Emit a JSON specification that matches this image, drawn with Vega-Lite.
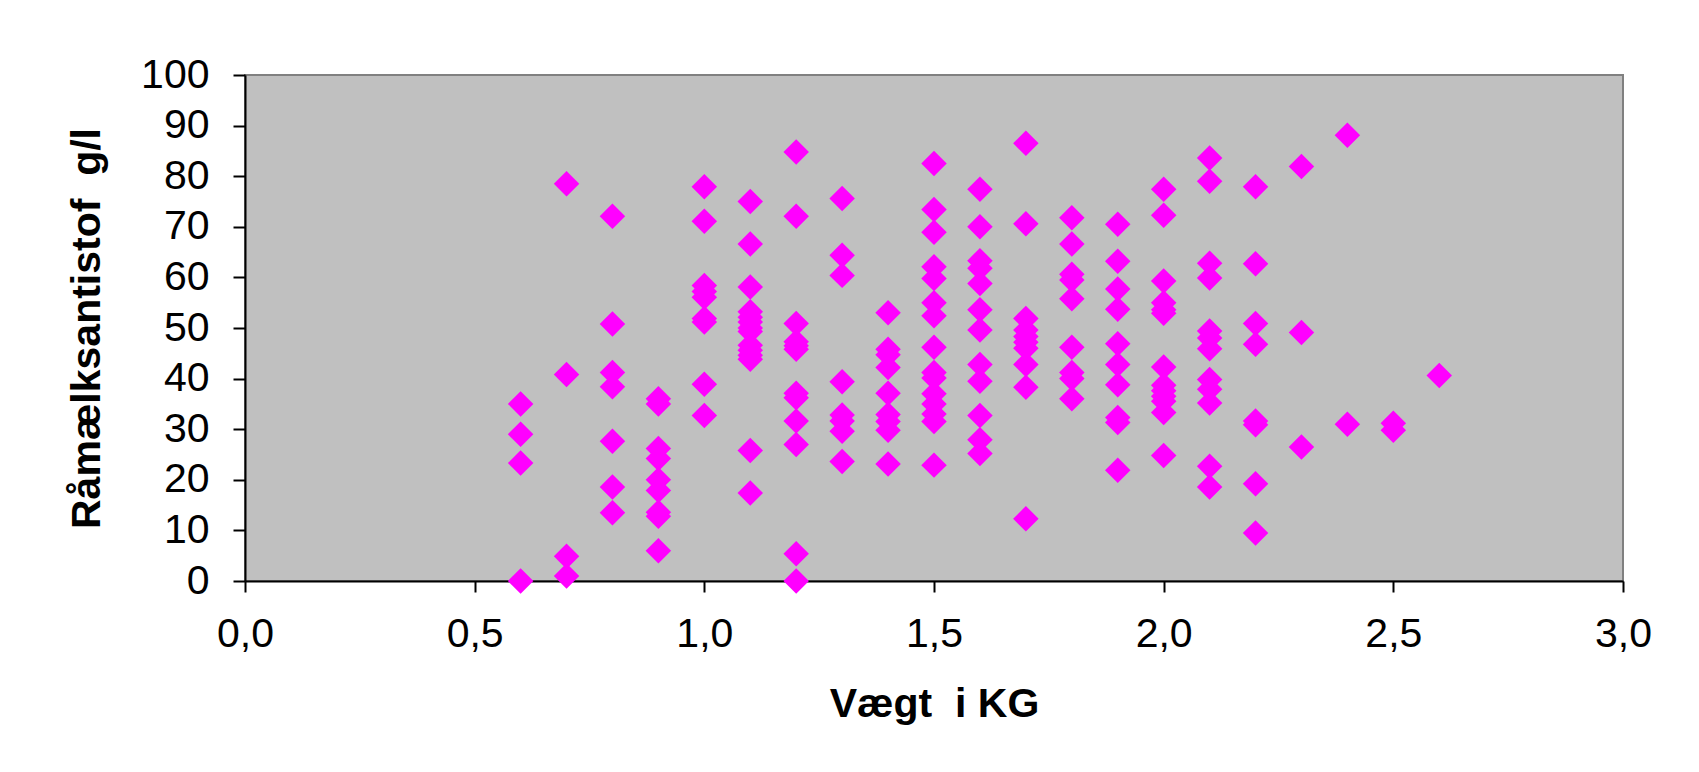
{
  "$schema": "https://vega.github.io/schema/vega-lite/v6.json",
  "autosize": {"type": "none"},
  "width": 1378,
  "height": 506,
  "padding": {"left": 245, "top": 75, "right": 76, "bottom": 191},
  "background": "white",
  "config": {
    "view": {"fill": "#c0c0c0", "stroke": "#808080", "strokeWidth": 2},
    "font": "Liberation Sans"
  },
  "data": {"values": [
    {"w":0.6,"a":35},{"w":0.6,"a":29},{"w":0.6,"a":23.3},{"w":0.6,"a":0},
    {"w":0.7,"a":78.5},{"w":0.7,"a":40.8},{"w":0.7,"a":4.9},{"w":0.7,"a":1},
    {"w":0.8,"a":72.1},{"w":0.8,"a":50.8},{"w":0.8,"a":41.2},{"w":0.8,"a":38.4},{"w":0.8,"a":27.6},{"w":0.8,"a":18.6},{"w":0.8,"a":13.5},
    {"w":0.9,"a":36},{"w":0.9,"a":35},{"w":0.9,"a":26.2},{"w":0.9,"a":24.2},{"w":0.9,"a":20},{"w":0.9,"a":17.9},{"w":0.9,"a":13.6},{"w":0.9,"a":12.8},{"w":0.9,"a":6},
    {"w":1.0,"a":77.9},{"w":1.0,"a":71.1},{"w":1.0,"a":58.4},{"w":1.0,"a":57.2},{"w":1.0,"a":56.1},{"w":1.0,"a":51.9},{"w":1.0,"a":51.2},{"w":1.0,"a":38.9},{"w":1.0,"a":32.7},
    {"w":1.1,"a":75},{"w":1.1,"a":66.6},{"w":1.1,"a":58.1},{"w":1.1,"a":53.2},{"w":1.1,"a":52.1},{"w":1.1,"a":51.2},{"w":1.1,"a":50},{"w":1.1,"a":49.3},{"w":1.1,"a":46.6},{"w":1.1,"a":45.6},{"w":1.1,"a":44.6},{"w":1.1,"a":43.8},{"w":1.1,"a":25.8},{"w":1.1,"a":17.4},
    {"w":1.2,"a":84.8},{"w":1.2,"a":72.1},{"w":1.2,"a":50.9},{"w":1.2,"a":47.3},{"w":1.2,"a":46.5},{"w":1.2,"a":45.8},{"w":1.2,"a":37.1},{"w":1.2,"a":36.2},{"w":1.2,"a":31.6},{"w":1.2,"a":27},{"w":1.2,"a":5.4},{"w":1.2,"a":0},
    {"w":1.3,"a":75.6},{"w":1.3,"a":64.4},{"w":1.3,"a":60.4},{"w":1.3,"a":39.4},{"w":1.3,"a":32.8},{"w":1.3,"a":31.6},{"w":1.3,"a":29.6},{"w":1.3,"a":23.6},
    {"w":1.4,"a":53},{"w":1.4,"a":45.8},{"w":1.4,"a":44.7},{"w":1.4,"a":42.2},{"w":1.4,"a":37.1},{"w":1.4,"a":32.9},{"w":1.4,"a":31.5},{"w":1.4,"a":29.8},{"w":1.4,"a":23.1},
    {"w":1.5,"a":82.5},{"w":1.5,"a":73.4},{"w":1.5,"a":68.9},{"w":1.5,"a":62.1},{"w":1.5,"a":59.8},{"w":1.5,"a":55},{"w":1.5,"a":52.4},{"w":1.5,"a":46.2},{"w":1.5,"a":41.2},{"w":1.5,"a":40.1},{"w":1.5,"a":37},{"w":1.5,"a":35},{"w":1.5,"a":33},{"w":1.5,"a":31.5},{"w":1.5,"a":22.9},
    {"w":1.6,"a":77.4},{"w":1.6,"a":70},{"w":1.6,"a":63.3},{"w":1.6,"a":61.8},{"w":1.6,"a":58.8},{"w":1.6,"a":53.6},{"w":1.6,"a":49.6},{"w":1.6,"a":42.8},{"w":1.6,"a":39.5},{"w":1.6,"a":32.7},{"w":1.6,"a":27.9},{"w":1.6,"a":25.2},
    {"w":1.7,"a":86.5},{"w":1.7,"a":70.6},{"w":1.7,"a":51.9},{"w":1.7,"a":49.6},{"w":1.7,"a":48.3},{"w":1.7,"a":47.2},{"w":1.7,"a":46},{"w":1.7,"a":42.8},{"w":1.7,"a":38.3},{"w":1.7,"a":12.3},
    {"w":1.8,"a":71.8},{"w":1.8,"a":66.6},{"w":1.8,"a":60.6},{"w":1.8,"a":59.5},{"w":1.8,"a":55.8},{"w":1.8,"a":46.2},{"w":1.8,"a":41.2},{"w":1.8,"a":40},{"w":1.8,"a":36},
    {"w":1.9,"a":70.5},{"w":1.9,"a":63.2},{"w":1.9,"a":57.7},{"w":1.9,"a":53.7},{"w":1.9,"a":46.9},{"w":1.9,"a":42.8},{"w":1.9,"a":38.8},{"w":1.9,"a":32.3},{"w":1.9,"a":31.3},{"w":1.9,"a":21.9},
    {"w":2.0,"a":77.4},{"w":2.0,"a":72.3},{"w":2.0,"a":59.3},{"w":2.0,"a":55},{"w":2.0,"a":53.6},{"w":2.0,"a":52.9},{"w":2.0,"a":42.3},{"w":2.0,"a":38.7},{"w":2.0,"a":37.6},{"w":2.0,"a":36.5},{"w":2.0,"a":35.5},{"w":2.0,"a":33.3},{"w":2.0,"a":24.8},
    {"w":2.1,"a":83.6},{"w":2.1,"a":79},{"w":2.1,"a":62.8},{"w":2.1,"a":59.9},{"w":2.1,"a":49.4},{"w":2.1,"a":48},{"w":2.1,"a":45.9},{"w":2.1,"a":39.8},{"w":2.1,"a":37.9},{"w":2.1,"a":35.2},{"w":2.1,"a":22.7},{"w":2.1,"a":18.6},
    {"w":2.2,"a":77.9},{"w":2.2,"a":62.7},{"w":2.2,"a":50.9},{"w":2.2,"a":46.8},{"w":2.2,"a":31.6},{"w":2.2,"a":30.9},{"w":2.2,"a":19.2},{"w":2.2,"a":9.5},
    {"w":2.3,"a":81.9},{"w":2.3,"a":49.1},{"w":2.3,"a":26.5},
    {"w":2.4,"a":88.1},{"w":2.4,"a":31},
    {"w":2.5,"a":31.2},{"w":2.5,"a":29.8},
    {"w":2.6,"a":40.6}
  ]},
  "mark": {"type": "point", "shape": "diamond", "filled": true, "color": "#ff00ff", "opacity": 1, "size": 650, "strokeWidth": 0, "clip": false},
  "encoding": {
    "x": {
      "field": "w", "type": "quantitative",
      "scale": {"domain": [0, 3], "nice": false, "zero": true},
      "axis": {
        "title": "Vægt \u00a0i KG",
        "values": [0, 0.5, 1, 1.5, 2, 2.5, 3],
        "labelExpr": "replace(format(datum.value, '.1f'), '.', ',')",
        "grid": false,
        "domainColor": "black", "domainWidth": 2,
        "tickColor": "black", "tickWidth": 2, "tickSize": 11,
        "labelFont": "Liberation Sans", "labelFontSize": 41, "labelColor": "black", "labelPadding": 22,
        "labelFlush": false,
        "titleFont": "Liberation Sans", "titleFontSize": 41, "titleFontWeight": "bold", "titleColor": "black", "titlePadding": 30
      }
    },
    "y": {
      "field": "a", "type": "quantitative",
      "scale": {"domain": [0, 100], "nice": false},
      "axis": {
        "title": "Råmælksantistof \u00a0g/l",
        "values": [0, 10, 20, 30, 40, 50, 60, 70, 80, 90, 100],
        "grid": false,
        "domainColor": "black", "domainWidth": 2,
        "tickColor": "black", "tickWidth": 2, "tickSize": 12,
        "labelFont": "Liberation Sans", "labelFontSize": 41, "labelColor": "black", "labelPadding": 24,
        "labelFlush": false,
        "titleFont": "Liberation Sans", "titleFontSize": 41, "titleFontWeight": "bold", "titleColor": "black", "titlePadding": 32
      }
    }
  }
}
